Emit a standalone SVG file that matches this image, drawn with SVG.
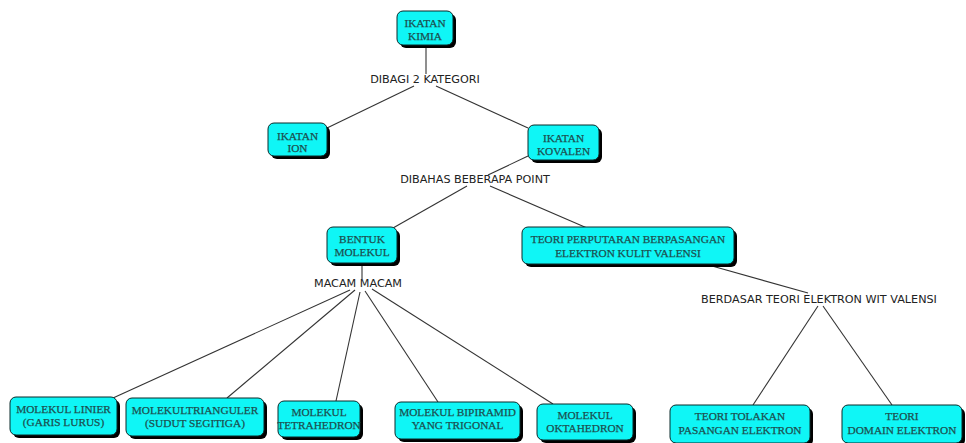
<svg xmlns="http://www.w3.org/2000/svg" width="966" height="443" viewBox="0 0 966 443">
<defs>
<style>
.box rect.sh{fill:#000;}
.box rect.bg{fill:#0ff6f6;stroke:#0a2a2a;stroke-width:1;}
.box text{font-family:"Liberation Serif","Times New Roman",serif;font-size:11.3px;fill:#1d4f4f;stroke:#1d4f4f;stroke-width:0.25;text-anchor:middle;}
.lbl{font-family:"DejaVu Sans",Verdana,sans-serif;font-size:11.2px;fill:#222;text-anchor:middle;}
.conn line{stroke:#333;stroke-width:1.1;}
</style>
</defs>
<rect width="966" height="443" fill="#fff"/>
<g class="conn">
<line x1="426" y1="45" x2="426" y2="74"/>
<line x1="414" y1="86" x2="327" y2="128"/>
<line x1="436" y1="86" x2="528" y2="128"/>
<line x1="528" y1="156" x2="488" y2="175"/>
<line x1="467" y1="186" x2="393" y2="228"/>
<line x1="490" y1="186" x2="587" y2="228"/>
<line x1="362" y1="263" x2="362" y2="279"/>
<line x1="350" y1="290" x2="113" y2="398"/>
<line x1="355" y1="290" x2="227" y2="398"/>
<line x1="360" y1="292" x2="336" y2="401"/>
<line x1="365" y1="291" x2="438" y2="402"/>
<line x1="372" y1="289" x2="553" y2="404"/>
<line x1="712" y1="266" x2="808" y2="293"/>
<line x1="818" y1="306" x2="753" y2="405"/>
<line x1="823" y1="306" x2="892" y2="405"/>
</g>
<g id="lbl-dibagi"><text class="lbl" x="425" y="83">DIBAGI 2 KATEGORI</text></g>
<g id="lbl-dibahas"><text class="lbl" x="475" y="183">DIBAHAS BEBERAPA POINT</text></g>
<g id="lbl-macam"><text class="lbl" x="358" y="287">MACAM MACAM</text></g>
<g id="lbl-berdasar"><text class="lbl" x="819" y="303">BERDASAR TEORI ELEKTRON WIT VALENSI</text></g>

<g id="n-kimia" class="box">
<rect class="sh" x="400" y="14" width="56" height="34" rx="6"/>
<rect class="bg" x="397" y="11" width="56" height="34" rx="6"/>
<text x="425" y="27">IKATAN</text><text x="425" y="40">KIMIA</text>
</g>
<g id="n-ion" class="box">
<rect class="sh" x="271" y="126" width="59" height="33" rx="6"/>
<rect class="bg" x="268" y="123" width="59" height="33" rx="6"/>
<text x="297.5" y="140">IKATAN</text><text x="297.5" y="152">ION</text>
</g>
<g id="n-kovalen" class="box">
<rect class="sh" x="531" y="128" width="71" height="35" rx="6"/>
<rect class="bg" x="528" y="125" width="71" height="35" rx="6"/>
<text x="563.5" y="142">IKATAN</text><text x="563.5" y="155">KOVALEN</text>
</g>
<g id="n-bentuk" class="box">
<rect class="sh" x="330" y="230" width="70" height="36" rx="6"/>
<rect class="bg" x="327" y="227" width="70" height="36" rx="6"/>
<text x="362" y="243">BENTUK</text><text x="362" y="256">MOLEKUL</text>
</g>
<g id="n-teori-perputaran" class="box">
<rect class="sh" x="525" y="230" width="212" height="37" rx="6"/>
<rect class="bg" x="522" y="227" width="212" height="37" rx="6"/>
<text x="628" y="243">TEORI PERPUTARAN BERPASANGAN</text><text x="628" y="257">ELEKTRON KULIT VALENSI</text>
</g>
<g id="n-linier" class="box">
<rect class="sh" x="13" y="400" width="107" height="38" rx="6"/>
<rect class="bg" x="10" y="397" width="107" height="38" rx="6"/>
<text x="63.5" y="413">MOLEKUL LINIER</text><text x="63.5" y="426">(GARIS LURUS)</text>
</g>
<g id="n-trianguler" class="box">
<rect class="sh" x="129" y="401" width="138" height="38" rx="6"/>
<rect class="bg" x="126" y="398" width="138" height="38" rx="6"/>
<text x="195" y="414">MOLEKULTRIANGULER</text><text x="195" y="427">(SUDUT SEGITIGA)</text>
</g>
<g id="n-tetrahedron" class="box">
<rect class="sh" x="281" y="404" width="82" height="36" rx="6"/>
<rect class="bg" x="278" y="401" width="82" height="36" rx="6"/>
<text x="319" y="416">MOLEKUL</text><text x="319" y="429">TETRAHEDRON</text>
</g>
<g id="n-bipiramid" class="box">
<rect class="sh" x="398" y="405" width="125" height="37" rx="6"/>
<rect class="bg" x="395" y="402" width="125" height="37" rx="6"/>
<text x="457.5" y="416">MOLEKUL BIPIRAMID</text><text x="457.5" y="429">YANG TRIGONAL</text>
</g>
<g id="n-oktahedron" class="box">
<rect class="sh" x="540" y="407" width="96" height="36" rx="6"/>
<rect class="bg" x="537" y="404" width="96" height="36" rx="6"/>
<text x="585" y="419">MOLEKUL</text><text x="585" y="432">OKTAHEDRON</text>
</g>
<g id="n-tolakan" class="box">
<rect class="sh" x="673" y="408" width="140" height="38" rx="6"/>
<rect class="bg" x="670" y="405" width="140" height="38" rx="6"/>
<text x="740" y="420">TEORI TOLAKAN</text><text x="740" y="434">PASANGAN ELEKTRON</text>
</g>
<g id="n-domain" class="box">
<rect class="sh" x="845" y="408" width="120" height="38" rx="6"/>
<rect class="bg" x="842" y="405" width="120" height="38" rx="6"/>
<text x="902" y="420">TEORI</text><text x="902" y="434">DOMAIN ELEKTRON</text>
</g>
</svg>
